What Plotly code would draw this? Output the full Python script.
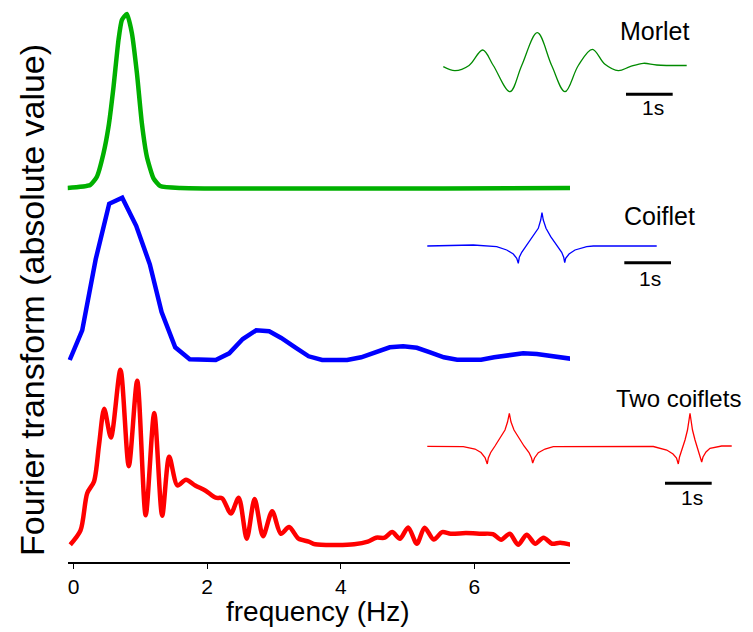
import plotly.graph_objects as go

W, H = 753, 632

# ---------------- main spectra (frequency in Hz, amplitude in arbitrary units above each baseline)
morlet_f = [-0.09, 0.25, 0.35, 0.449, 0.524, 0.599, 0.673, 0.724, 0.799, 0.874, 0.949, 1.023, 1.098, 1.197, 1.297, 1.6, 7.43]
morlet_a = [0.0, 0.03, 0.113, 0.347, 0.613, 1.013, 1.48, 1.68, 1.74, 1.547, 1.147, 0.647, 0.313, 0.097, 0.02, 0.0, 0.0]

coif_f = [-0.057, 0.13, 0.332, 0.534, 0.729, 0.938, 1.142, 1.318, 1.522, 1.739, 2.128, 2.33, 2.533, 2.734,
          2.928, 3.108, 3.317, 3.519, 3.721, 4.095, 4.305, 4.529, 4.733, 4.933, 5.138, 5.337, 5.542, 5.741,
          6.1, 6.295, 6.528, 6.729, 6.934, 7.133, 7.44]
coif_a = [0.0, 0.297, 1.007, 1.562, 1.623, 1.342, 0.957, 0.48, 0.127, 0.007, 0.0, 0.067, 0.21, 0.297,
          0.287, 0.22, 0.127, 0.037, 0.0, 0.0, 0.027, 0.081, 0.127, 0.137, 0.122, 0.077, 0.027, 0.003,
          0.003, 0.027, 0.051, 0.067, 0.061, 0.041, 0.013]

two_f = [-0.049, 0.105, 0.205, 0.307, 0.383, 0.459, 0.56, 0.702, 0.827, 0.953, 1.08, 1.208, 1.327, 1.432,
         1.556, 1.683, 1.821, 1.977, 2.128, 2.225, 2.355, 2.472, 2.593, 2.71, 2.836, 2.973, 3.103, 3.226,
         3.367, 3.519, 3.617, 3.946, 4.2, 4.404, 4.529, 4.657, 4.769, 4.886, 5.008, 5.138, 5.254, 5.391,
         5.517, 5.644, 5.872, 6.101, 6.276, 6.4, 6.529, 6.654, 6.781, 6.909, 7.034, 7.161, 7.283, 7.44]
two_a = [0.003, 0.146, 0.518, 0.636, 1.008, 1.363, 1.075, 1.753, 0.788, 1.643, 0.298, 1.319, 0.293, 0.883,
         0.595, 0.653, 0.595, 0.543, 0.473, 0.467, 0.315, 0.473, 0.063, 0.46, 0.088, 0.338, 0.113, 0.18,
         0.063, 0.034, 0.007, 0.0, 0.007, 0.034, 0.073, 0.073, 0.129, 0.063, 0.176, 0.013, 0.173, 0.054,
         0.129, 0.113, 0.119, 0.113, 0.109, 0.053, 0.113, 0.003, 0.103, 0.013, 0.073, 0.013, 0.023, 0.003]

baselines = {"morlet": 3.74, "coif": 2.02, "two": 0.17}

freq_ticks = [0, 2, 4, 6]

# ---------------- wavelet insets (time in s, amplitude normalised)
mw_t = [0.499, 0.749, 1.05, 1.343, 1.57, 1.927, 2.178, 2.512, 2.82, 3.105, 3.39, 3.69, 3.961, 4.246, 4.497, 4.782, 5.068, 5.711]
mw_a = [-0.036, -0.158, 0.0, 0.47, 0.0, -0.794, 0.0, 0.994, 0.0, -0.794, 0.0, 0.491, 0.036, -0.158, -0.036, 0.067, 0.015, 0.0]

cw_t = [0.156, 1.141, 1.642, 1.857, 1.998, 2.071, 2.105, 2.126, 2.178, 2.285, 2.426, 2.533, 2.585, 2.612,
        2.640, 2.698, 2.799, 2.927, 3.034, 3.077, 3.099, 3.120, 3.191, 3.319, 3.570, 3.711, 5.069]
cw_a = [0.0, 0.03, -0.021, -0.121, -0.242, -0.373, -0.524, -0.342, -0.191, 0.03, 0.282, 0.536, 0.788, 1.009,
        0.788, 0.536, 0.282, 0.03, -0.191, -0.342, -0.506, -0.373, -0.242, -0.121, -0.021, 0.0, 0.0]

tw_t = [0.156, 0.927, 1.178, 1.306, 1.392, 1.441, 1.463, 1.514, 1.606, 1.713, 1.820, 1.874, 1.913, 1.949,
        2.013, 2.120, 2.227, 2.334, 2.388, 2.413, 2.452, 2.533, 2.677, 2.854, 3.570, 4.996, 5.283, 5.418,
        5.493, 5.531, 5.557, 5.610, 5.675, 5.728, 5.760, 5.782, 5.803, 5.835, 5.889, 5.953, 6.006, 6.032,
        6.060, 6.124, 6.210, 6.460, 6.675]
tw_a = [0.006, -0.006, -0.076, -0.182, -0.333, -0.53, -0.348, -0.182, 0.015, 0.258, 0.5, 0.742, 1.006,
        0.742, 0.5, 0.258, 0.015, -0.182, -0.348, -0.5, -0.348, -0.188, -0.076, -0.006, 0.0, 0.0, -0.106,
        -0.227, -0.348, -0.53, -0.318, -0.106, 0.197, 0.5, 0.803, 1.006, 0.803, 0.5, 0.197, -0.106, -0.318,
        -0.47, -0.318, -0.167, -0.055, 0.015, 0.015]

# scale bars: start time (s), level; label position; length 1 s
bars = {"morlet": (4.411, -0.873, 4.989, -1.258),
        "coif": (4.375, -0.506, 4.925, -0.97),
        "two": (5.246, -1.115, 5.818, -1.56)}

names = ["Morlet", "Coiflet", "Two coiflets"]

# ---------------- layout helpers
def px(x):
    return x / W

def py(y):
    return 1 - y / H

FONT = "Liberation Sans, Arial, sans-serif"
MAIN_GREEN = "#00B000"
INSET_GREEN = "#008A00"

fig = go.Figure()

def spec(f, a, base, color, shape, smoothing):
    fig.add_trace(go.Scatter(x=f, y=[v + base for v in a], mode="lines",
                             line=dict(color=color, width=4.5, shape=shape, smoothing=smoothing),
                             xaxis="x", yaxis="y", showlegend=False, hoverinfo="skip"))

spec(morlet_f, morlet_a, baselines["morlet"], MAIN_GREEN, "spline", 0.5)
spec(coif_f, coif_a, baselines["coif"], "#0000FF", "linear", 1)
spec(two_f, two_a, baselines["two"], "#FF0000", "spline", 0.8)

insets = [
    ("x2", "y2", mw_t, mw_a, INSET_GREEN, "spline", bars["morlet"], 65.5),
    ("x3", "y3", cw_t, cw_a, "#0000FF", "linear", bars["coif"], 246),
    ("x4", "y4", tw_t, tw_a, "#FF0000", "linear", bars["two"], 446.5),
]

SEC_PX = 46.7
AMP_PX = 33.0
IN_LEFT, IN_RIGHT = 420, 745
HALF = 62

layout_axes = {}
for i, (xa, ya, t, a, col, shape, bar, yb) in enumerate(insets):
    fig.add_trace(go.Scatter(x=t, y=a, mode="lines",
                             line=dict(color=col, width=1.3, shape=shape, smoothing=1.0),
                             xaxis=xa, yaxis=ya, showlegend=False, hoverinfo="skip"))
    fig.add_trace(go.Scatter(x=[bar[0], bar[0] + 1], y=[bar[1], bar[1]], mode="lines",
                             line=dict(color="black", width=3),
                             xaxis=xa, yaxis=ya, showlegend=False, hoverinfo="skip"))
    fig.add_annotation(x=bar[2], y=bar[3], xref=xa, yref=ya, text="1s", showarrow=False,
                       font=dict(family=FONT, size=21, color="black"),
                       xanchor="center", yanchor="middle")
    n = xa[1:]
    layout_axes["xaxis" + n] = dict(domain=[px(IN_LEFT), px(IN_RIGHT)],
                                    range=[0, (IN_RIGHT - IN_LEFT) / SEC_PX],
                                    visible=False, anchor="y" + n, fixedrange=True)
    layout_axes["yaxis" + n] = dict(domain=[py(yb + HALF), py(yb - HALF)],
                                    range=[-HALF / AMP_PX, HALF / AMP_PX],
                                    visible=False, anchor="x" + n, fixedrange=True)

# wavelet names
for name, (cx, cy, sz) in zip(names, [(655, 31, 25), (659, 216, 25), (678, 398, 24)]):
    fig.add_annotation(x=px(cx), y=py(cy), xref="paper", yref="paper", text=name, showarrow=False,
                       font=dict(family=FONT, size=sz, color="black"),
                       xanchor="center", yanchor="middle")

# axis titles
fig.add_annotation(x=px(318), y=py(611), xref="paper", yref="paper", text="frequency (Hz)",
                   showarrow=False, font=dict(family=FONT, size=28, color="black"),
                   xanchor="center", yanchor="middle")
fig.add_annotation(x=px(32), y=py(300), xref="paper", yref="paper", text="Fourier transform (absolute value)",
                   showarrow=False, textangle=-90, font=dict(family=FONT, size=34, color="black"),
                   xanchor="center", yanchor="middle")

AX_LEFT, AX_RIGHT, AX_Y = 67.5, 570, 562
fig.update_layout(
    width=W, height=H,
    margin=dict(l=0, r=0, t=0, b=0),
    paper_bgcolor="white", plot_bgcolor="rgba(0,0,0,0)",
    xaxis=dict(domain=[px(AX_LEFT), px(AX_RIGHT)], range=[-0.09, 7.43],
               tickvals=freq_ticks, ticktext=[str(v) for v in freq_ticks],
               ticks="outside", ticklen=5, tickwidth=1, tickcolor="black",
               showline=True, linecolor="black", linewidth=1.5,
               showgrid=False, zeroline=False,
               tickfont=dict(family=FONT, size=21, color="black"),
               anchor="y", fixedrange=True),
    yaxis=dict(domain=[py(AX_Y), 1], range=[0, AX_Y / 100], visible=False,
               anchor="x", fixedrange=True),
    **layout_axes,
)

fig.write_html("out.html")
